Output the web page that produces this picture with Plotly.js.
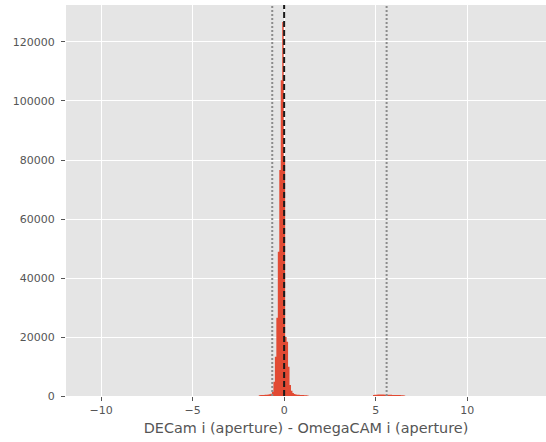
<!DOCTYPE html>
<html>
<head>
<meta charset="utf-8">
<script src="https://cdn.plot.ly/plotly-3.0.1.min.js"></script>
<style>html,body{margin:0;padding:0;background:#fff;}#chart{width:546px;height:442px;}</style>
</head>
<body>
<div id="chart"></div>
<script>
// Histogram bins (left edge of first bin, bin width) and counts
const binStart = -1.385;
const binWidth = 0.08;
const counts = [
  250, 300, 300, 350, 400, 450, 500, 600, 800, 1450,
  4850, 13300, 26500, 48900, 76600, 107000, 126800, 80000, 20000, 18400,
  9900, 3700, 1800, 1000, 700, 550, 450, 400, 350, 300,
  300, 250, 250, 200, 0, 0, 0, 0, 0, 0,
  0, 0, 0, 0, 0, 0, 0, 0, 0, 0,
  0, 0, 0, 0, 0, 0, 0, 0, 0, 0,
  0, 0, 0, 0, 0, 0, 0, 0, 0, 0,
  0, 0, 0, 0, 0, 0, 0, 0, 300, 400,
  450, 500, 500, 550, 500, 500, 450, 450, 400, 400,
  400, 350, 350, 350, 300, 300, 300, 250, 250, 200
];
// Reference lines
const zeroLine = [0];
const limitLines = [-0.65, 5.6];
// Axis ticks
const xTicks = [-10, -5, 0, 5, 10];
const yTicks = [0, 20000, 40000, 60000, 80000, 100000, 120000];
const xTitle = 'DECam i (aperture) - OmegaCAM i (aperture)';

// Step outline of the histogram: bin edges with counts held across each bin
const edges = counts.map((c, i) => binStart + binWidth * i).concat([binStart + binWidth * counts.length]);
const stepY = counts.concat([counts[counts.length - 1]]);

const trace = {
  type: 'scatter',
  mode: 'lines',
  x: [edges[0]].concat(edges),
  y: [0].concat(stepY),
  line: {shape: 'hv', width: 0, color: '#E24A33'},
  fill: 'tozeroy',
  fillcolor: '#E24A33',
  hoverinfo: 'x+y'
};

const shapes = [];
zeroLine.forEach(v => shapes.push({
  type: 'line', xref: 'x', yref: 'paper', x0: v, x1: v, y0: 0, y1: 1,
  line: {color: '#1a1a1a', width: 2, dash: '6px,3px'}
}));
limitLines.forEach(v => shapes.push({
  type: 'line', xref: 'x', yref: 'paper', x0: v, x1: v, y0: 0, y1: 1,
  line: {color: '#8c8c8c', width: 2, dash: '2px,2px'}
}));

const font = 'DejaVu Sans, Verdana, sans-serif';
const layout = {
  width: 546, height: 442,
  margin: {l: 66, r: 0, t: 5, b: 46, pad: 0},
  paper_bgcolor: '#ffffff',
  plot_bgcolor: '#E5E5E5',
  showlegend: false,
  font: {family: font, color: '#555555'},
  xaxis: {
    range: [-11.92, 14.31],
    tickvals: xTicks,
    ticks: 'outside', ticklen: 4, tickwidth: 1, tickcolor: '#555555',
    tickfont: {family: font, size: 11, color: '#555555'},
    showgrid: true, gridcolor: '#ffffff', gridwidth: 1,
    zeroline: false, showline: false,
    title: {text: xTitle, font: {family: font, size: 14.4, color: '#555555'}, standoff: 6}
  },
  yaxis: {
    range: [0, 132540],
    tickvals: yTicks,
    tickformat: 'd',
    ticks: 'outside', ticklen: 4, tickwidth: 1, tickcolor: '#555555',
    tickfont: {family: font, size: 11, color: '#555555'},
    showgrid: true, gridcolor: '#ffffff', gridwidth: 1,
    zeroline: false, showline: false,
    ticklabelstandoff: 4
  },
  shapes: shapes
};

Plotly.newPlot('chart', [trace], layout, {displayModeBar: false, staticPlot: true});
</script>
</body>
</html>
